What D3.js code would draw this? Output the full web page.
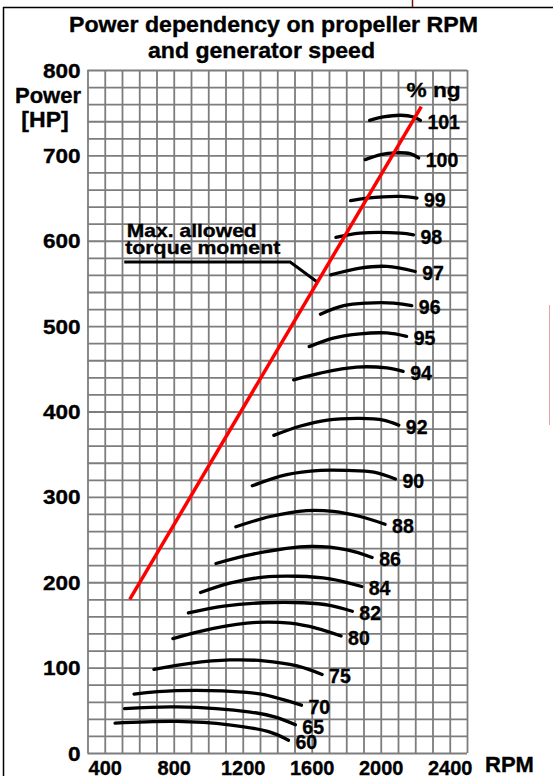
<!DOCTYPE html>
<html>
<head>
<meta charset="utf-8">
<script src="https://cdn.jsdelivr.net/npm/d3@7"></script>
<style>
body { margin: 0; background: #fff; }
svg { display: block; font-family: "Liberation Sans", Arial, Helvetica, sans-serif; font-weight: bold; }
svg text { stroke: #000; stroke-width: 0.35px; }
</style>
</head>
<body>
<script>
// values: [RPM, HP]
const ng60 = [[460, 35], [815, 37], [1120, 33], [1350, 25], [1465, 15]]
const ng65 = [[515, 52], [815, 54], [1245, 48], [1390, 42], [1505, 33]]
const ng70 = [[570, 69], [815, 73], [1225, 71], [1330, 68], [1540, 56]]
const ng75 = [[685, 98], [895, 105], [1125, 109], [1320, 108], [1515, 102], [1660, 92]]
const ng80 = [[795, 134], [1030, 146], [1280, 153], [1475, 152], [1630, 146], [1770, 137]]
const ng82 = [[885, 164], [1090, 172], [1320, 176], [1550, 176], [1705, 173], [1835, 166]]
const ng84 = [[955, 188], [1125, 199], [1320, 206], [1515, 207], [1705, 204], [1890, 195]]
const ng86 = [[1045, 222], [1260, 233], [1590, 242], [1805, 238], [1950, 229]]
const ng88 = [[1160, 265], [1360, 277], [1570, 284], [1725, 283], [1880, 277], [2025, 268]]
const ng90 = [[1255, 313], [1455, 326], [1650, 331], [1805, 331], [1960, 329], [2085, 321]]
const ng92 = [[1380, 372], [1535, 383], [1690, 390], [1880, 392], [2015, 390], [2105, 384]]
const ng94 = [[1495, 437], [1650, 445], [1860, 452], [2035, 451], [2130, 447]]
const ng95 = [[1585, 476], [1725, 486], [1880, 491], [2035, 492], [2150, 488]]
const ng96 = [[1650, 514], [1785, 524], [1920, 527], [2075, 527], [2180, 524]]
const ng97 = [[1710, 560], [1880, 568], [2035, 570], [2200, 564]]
const ng98 = [[1740, 604], [1880, 609], [2115, 609], [2190, 607]]
const ng99 = [[1825, 647], [1920, 650], [2115, 652], [2210, 650]]
const ng100 = [[1910, 695], [2000, 701], [2085, 703], [2170, 702], [2220, 697]]
const ng101 = [[1935, 741], [2015, 745], [2115, 747], [2190, 745], [2230, 741]]

const ngLabels = ['60', '65', '70', '75', '80', '82', '84', '86', '88', '90', '92', '94', '95', '96', '97', '98', '99', '100', '101']
const ngSeries = [ng60, ng65, ng70, ng75, ng80, ng82, ng84, ng86, ng88, ng90, ng92, ng94, ng95, ng96, ng97, ng98, ng99, ng100, ng101]

// max allowed torque line and its leader
const torqueLimit = [[545, 180], [2235, 757]]
const torqueLeader = [[513, 575], [1475, 575], [1630, 552]]

const xTicks = [400, 800, 1200, 1600, 2000, 2400]
const yTicks = [0, 100, 200, 300, 400, 500, 600, 700, 800]

var width = 553,
    height = 776
var plot = {left: 87.5, right: 467, top: 70, bottom: 753}

var svg = d3.select('body').append('svg')
    .attr('width', width)
    .attr('height', height)

// frame bits around the scanned page
svg.append('line').attr('x1', 3.5).attr('x2', 3.5).attr('y1', 7).attr('y2', height)
    .attr('stroke', '#000').attr('stroke-width', 1.5)
svg.append('line').attr('x1', 3).attr('x2', width).attr('y1', 7.5).attr('y2', 7.5)
    .attr('stroke', '#000').attr('stroke-width', 1.5)
svg.append('line').attr('x1', 412.5).attr('x2', 412.5).attr('y1', 0).attr('y2', 7)
    .attr('stroke', '#7a1010').attr('stroke-width', 1.5)
svg.append('line').attr('x1', 549.5).attr('x2', 549.5).attr('y1', 305).attr('y2', 425)
    .attr('stroke', '#e9a3a3').attr('stroke-width', 1)

var x = d3.scaleLinear().domain([300, 2500]).range([plot.left, plot.right])
var y = d3.scaleLinear().domain([0, 800]).range([plot.bottom, plot.top])

// grid
var gridColor = '#7d7d7d'
var gx = svg.append('g')
    .attr('transform', `translate(0,${plot.bottom})`)
    .call(d3.axisBottom(x).tickValues(d3.range(300, 2501, 100)).tickSize(-(plot.bottom - plot.top)).tickFormat(''))
gx.select('.domain').remove()
gx.selectAll('line').attr('stroke', gridColor).attr('stroke-width', 1.8)

var gy = svg.append('g')
    .attr('transform', `translate(${plot.left},0)`)
    .call(d3.axisLeft(y).tickValues(d3.range(0, 801, 20)).tickSize(-(plot.right - plot.left)).tickFormat(''))
gy.select('.domain').remove()
gy.selectAll('line').attr('stroke', gridColor).attr('stroke-width', 1.8)

// tick labels
var yAxis = svg.append('g')
    .attr('transform', `translate(${plot.left},0)`)
    .call(d3.axisLeft(y).tickValues(yTicks).tickSize(0).tickPadding(0).tickFormat(d3.format('d')))
yAxis.select('.domain').remove()
yAxis.selectAll('text')
    .attr('x', null).attr('dy', null)
    .attr('transform', 'translate(-7,7) scale(1.1,1)')
    .attr('font-size', 20.5).attr('font-family', null).attr('fill', '#000')

var xAxis = svg.append('g')
    .attr('transform', `translate(0,${plot.bottom})`)
    .call(d3.axisBottom(x).tickValues(xTicks).tickSize(0).tickPadding(0).tickFormat(d3.format('d')))
xAxis.select('.domain').remove()
xAxis.selectAll('text')
    .attr('y', 22).attr('dy', null)
    .attr('font-size', 20).attr('font-family', null).attr('fill', '#000')

// axis titles
svg.append('text').attr('x', 81).attr('y', 103).attr('text-anchor', 'end')
    .attr('font-size', 22).text('Power')
svg.append('text').attr('transform', 'translate(45,127) scale(1.05,1)').attr('text-anchor', 'middle')
    .attr('font-size', 22).text('[HP]')
svg.append('text').attr('x', 485).attr('y', 771.5)
    .attr('font-size', 22).text('RPM')
svg.append('text').attr('transform', 'translate(406.5,96.5) scale(1.08,1)')
    .attr('font-size', 21).text('% ng')

// title
svg.append('text').attr('x', 69).attr('y', 32)
    .attr('font-size', 21.5).attr('textLength', 409).attr('lengthAdjust', 'spacingAndGlyphs')
    .text('Power dependency on propeller RPM')
svg.append('text').attr('x', 148).attr('y', 57.5)
    .attr('font-size', 21.5).attr('textLength', 227).attr('lengthAdjust', 'spacingAndGlyphs')
    .text('and generator speed')

// ng curves
var line = d3.line()
    .x(d => x(d[0]))
    .y(d => y(d[1]))
    .curve(d3.curveCatmullRom.alpha(0.5))

var curves = svg.append('g').selectAll('.ng')
    .data(ngSeries.map((pts, i) => ({label: ngLabels[i], pts: pts}))).enter()
    .append('g')
    .attr('class', 'ng')

curves.append('path')
    .attr('d', d => line(d.pts))
    .attr('fill', 'none')
    .attr('stroke', '#000')
    .attr('stroke-width', 3.3)
    .attr('stroke-linecap', 'round')

curves.append('text')
    .attr('x', d => x(d.pts[d.pts.length - 1][0]) + 7)
    .attr('y', d => y(d.pts[d.pts.length - 1][1]) + 2)
    .attr('dy', '0.35em')
    .attr('font-size', 19.5)
    .text(d => d.label)

// torque leader + text
svg.append('path')
    .attr('d', d3.line().x(d => x(d[0])).y(d => y(d[1]))(torqueLeader))
    .attr('fill', 'none')
    .attr('stroke', '#000')
    .attr('stroke-width', 3)

var lx = x(torqueLeader[0][0]),
    ly = y(torqueLeader[0][1])
svg.append('text').attr('x', lx + 2.5).attr('y', ly - 25)
    .attr('font-size', 18.5).attr('textLength', 130).attr('lengthAdjust', 'spacingAndGlyphs')
    .text('Max. allowed')
svg.append('text').attr('x', lx + 1).attr('y', ly - 8.5)
    .attr('font-size', 18.5).attr('textLength', 155).attr('lengthAdjust', 'spacingAndGlyphs')
    .text('torque moment')

// max torque line
svg.append('path')
    .attr('d', d3.line().x(d => x(d[0])).y(d => y(d[1]))(torqueLimit))
    .attr('stroke', '#ff0000')
    .attr('stroke-width', 3.5)
</script>
</body>
</html>
